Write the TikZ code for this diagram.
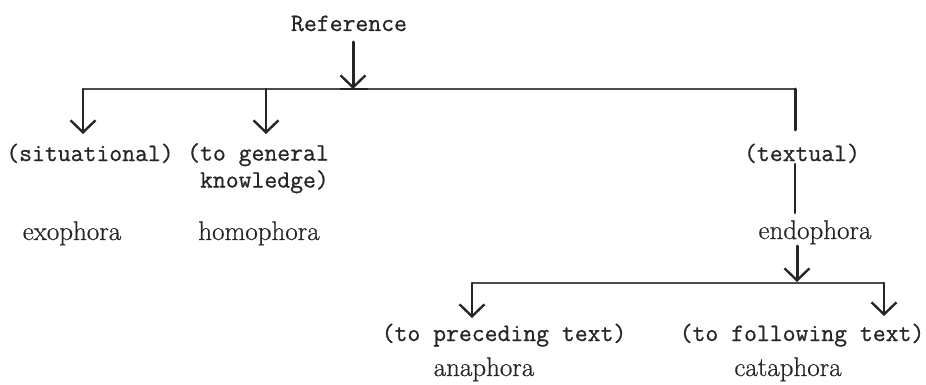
\documentclass[tikz,border=0pt]{standalone}
\usepackage{fontspec}
\newfontfamily\typer{Latin Modern Mono}[FakeBold=0.8]
\newfontfamily\termfont{Latin Modern Roman}[FakeBold=0.6]
\usetikzlibrary{arrows.meta}
\tikzset{
  mono/.style={font=\fontsize{25}{27}\selectfont\typer, inner sep=0pt, anchor=base, text=black!85},
  term/.style={font=\fontsize{27}{28}\selectfont\termfont, inner sep=0pt, anchor=base, text=black!85},
  bar/.style={line width=1.5pt, draw=black!70},
  stem/.style={line width=2.4pt, draw=black!85, line cap=round},
  tip/.style={-{Straight Barb[length=12pt,width=25pt,line width=2.4pt]}},
}
\begin{document}
\begin{tikzpicture}[x=1pt,y=-1pt]
\useasboundingbox (0,0) rectangle (926,385);

% labels
\node[mono] (ref) at (349,31) {Reference};
\node[mono] (sit) at (90,161) {(situational)};
\node[mono, align=right, anchor=north east] (gen) at (329,143) {(to general\\knowledge)};
\node[mono] (txt) at (802,161) {(textual)};
\node[term] (exo) at (72,240) {exophora};
\node[term] (homo) at (259,240) {homophora};
\node[term] (endo) at (815,239) {endophora};
\node[mono] (prec) at (504,341) {(to preceding text)};
\node[mono] (foll) at (802,341) {(to following text)};
\node[term] (ana) at (484,376) {anaphora};
\node[term] (cata) at (788,376) {cataphora};

% junction points
\coordinate (reftop) at (353,42);
\coordinate (refhit) at (353,89);
\coordinate (tickL) at (340,89);
\coordinate (tickR) at (368,89);
\coordinate (barL) at (83,89);
\coordinate (barM) at (266,89);
\coordinate (barR) at (795,89);
\coordinate (sitTip) at (83,134);
\coordinate (genTip) at (266,134);
\coordinate (txtTop) at (795,130);
\coordinate (txtLow) at (795,164);
\coordinate (endoTop) at (795,213);
\coordinate (endoLow) at (797,246);
\coordinate (lowHit) at (797,282);
\coordinate (lowL) at (472,283);
\coordinate (lowR) at (884,283);
\coordinate (precTip) at (472,318);
\coordinate (follTip) at (884,316);

% upper tree
\draw[bar] (barL) -- (barR);
\draw[stem, line cap=butt] (tickL) -- (tickR);
\draw[stem, tip, line width=3pt] (reftop) -- (refhit);
\draw[stem, tip] (barL) -- (sitTip);
\draw[stem, tip] (barM) -- (genTip);
\draw[stem, line width=3pt] (barR) -- (txtTop);
\draw[stem] (txtLow) -- (endoTop);

% lower tree
\draw[bar] (lowL) -- (lowR);
\draw[stem, tip, line width=3pt] (endoLow) -- (lowHit);
\draw[stem, tip] (lowL) -- (precTip);
\draw[stem, tip] (lowR) -- (follTip);
\end{tikzpicture}
\end{document}
